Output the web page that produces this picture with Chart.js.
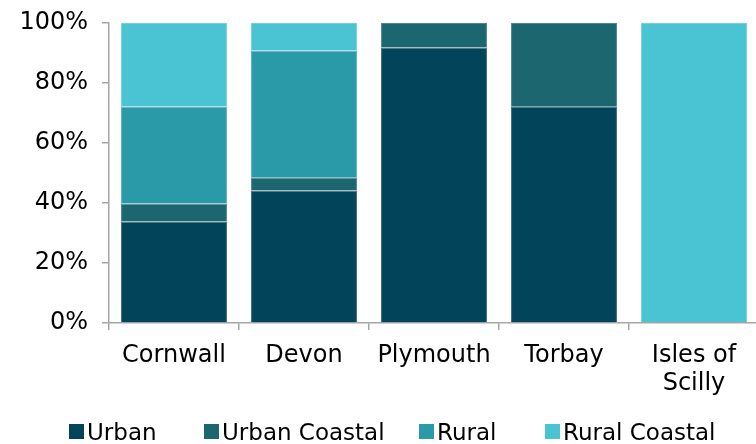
<!DOCTYPE html>
<html>
<head>
<meta charset="utf-8">
<script src="https://cdn.jsdelivr.net/npm/chart.js@4/dist/chart.umd.min.js"></script>
<style>
    html, body { margin: 0; padding: 0; background: #fff; width: 756px; height: 444px; overflow: hidden; }
    #wrap { position: relative; width: 756px; height: 444px; overflow: hidden; }
    #myChart { position: absolute; left: 0; top: 0; }
    #legend { position: absolute; left: 0; top: 424px; width: 756px; height: 15px; font-family: "DejaVu Sans", Verdana, sans-serif; font-size: 23px; color: #000; }
    .item { position: absolute; top: 0; display: flex; align-items: center; height: 15px; white-space: nowrap; }
    .swatch { width: 15px; height: 15px; margin-right: 3px; flex: none; }
</style>
</head>
<body>
<div id="wrap">
    <canvas id="myChart" width="760" height="444"></canvas>
    <div id="legend"></div>
</div>
<script>
// Share of each area by settlement type (%)
const categories = ['Cornwall', 'Devon', 'Plymouth', 'Torbay', ['Isles of', 'Scilly']];
const seriesNames = ['Urban', 'Urban Coastal', 'Rural', 'Rural Coastal'];
const urban = [33.8, 44.2, 91.8, 72.1, 0];
const urbanCoastal = [6.0, 4.2, 8.2, 27.9, 0];
const rural = [32.4, 42.4, 0, 0, 0];
const ruralCoastal = [27.8, 9.2, 0, 0, 100];
const yTicks = [0, 20, 40, 60, 80, 100];

const colors = ['#02445a', '#1c6670', '#2a9aa9', '#4ac4d3'];
// slightly lighter edge for each segment
const edgeColors = ['#3d6d7c', '#4f8790', '#5bb2be', '#74d2de'];
const legendLeft = [69, 204, 419, 545];
const FONT = '"DejaVu Sans", Verdana, sans-serif';

const datasets = [urban, urbanCoastal, rural, ruralCoastal].map((values, i) => ({
    label: seriesNames[i],
    data: values,
    backgroundColor: colors[i],
    borderColor: edgeColors[i],
    borderWidth: 1,
    barPercentage: 0.815,
    categoryPercentage: 1
}));

const ctx = document.getElementById('myChart').getContext('2d');
new Chart(ctx, {
    type: 'bar',
    data: { labels: categories, datasets: datasets },
    options: {
        responsive: false,
        animation: false,
        devicePixelRatio: 1,
        layout: { padding: { top: 23, right: 1, left: 0, bottom: 0 } },
        plugins: {
            legend: { display: false },
            tooltip: { enabled: false }
        },
        scales: {
            x: {
                stacked: true,
                border: { display: true, color: '#a6a6a6', width: 1.5 },
                grid: { display: true, drawOnChartArea: false, drawTicks: true, tickLength: 7, color: '#a6a6a6', lineWidth: 1.5, offset: true },
                ticks: { color: '#000', font: { family: FONT, size: 24 }, padding: 11, maxRotation: 0, autoSkip: false },
                afterFit: scale => { scale.height = 121; }
            },
            y: {
                stacked: true,
                min: 0,
                max: 100,
                border: { display: true, color: '#a6a6a6', width: 1.5 },
                grid: { display: true, drawOnChartArea: false, drawTicks: true, tickLength: 7, color: '#a6a6a6', lineWidth: 1.5 },
                afterBuildTicks: scale => { scale.ticks = yTicks.map(v => ({ value: v })); },
                ticks: {
                    color: '#000',
                    font: { family: FONT, size: 24 },
                    padding: 14,
                    callback: v => v + '%'
                },
                afterFit: scale => {
                    scale.width = 109;
                    scale.paddingTop = 0;
                    scale.paddingBottom = 0;
                }
            }
        }
    }
});

// Legend row under the chart
const legendEl = document.getElementById('legend');
seriesNames.forEach((name, i) => {
    const item = document.createElement('div');
    item.className = 'item';
    item.style.left = legendLeft[i] + 'px';
    const sw = document.createElement('span');
    sw.className = 'swatch';
    sw.style.background = colors[i];
    const txt = document.createElement('span');
    txt.textContent = name;
    item.appendChild(sw);
    item.appendChild(txt);
    legendEl.appendChild(item);
});
</script>
</body>
</html>
